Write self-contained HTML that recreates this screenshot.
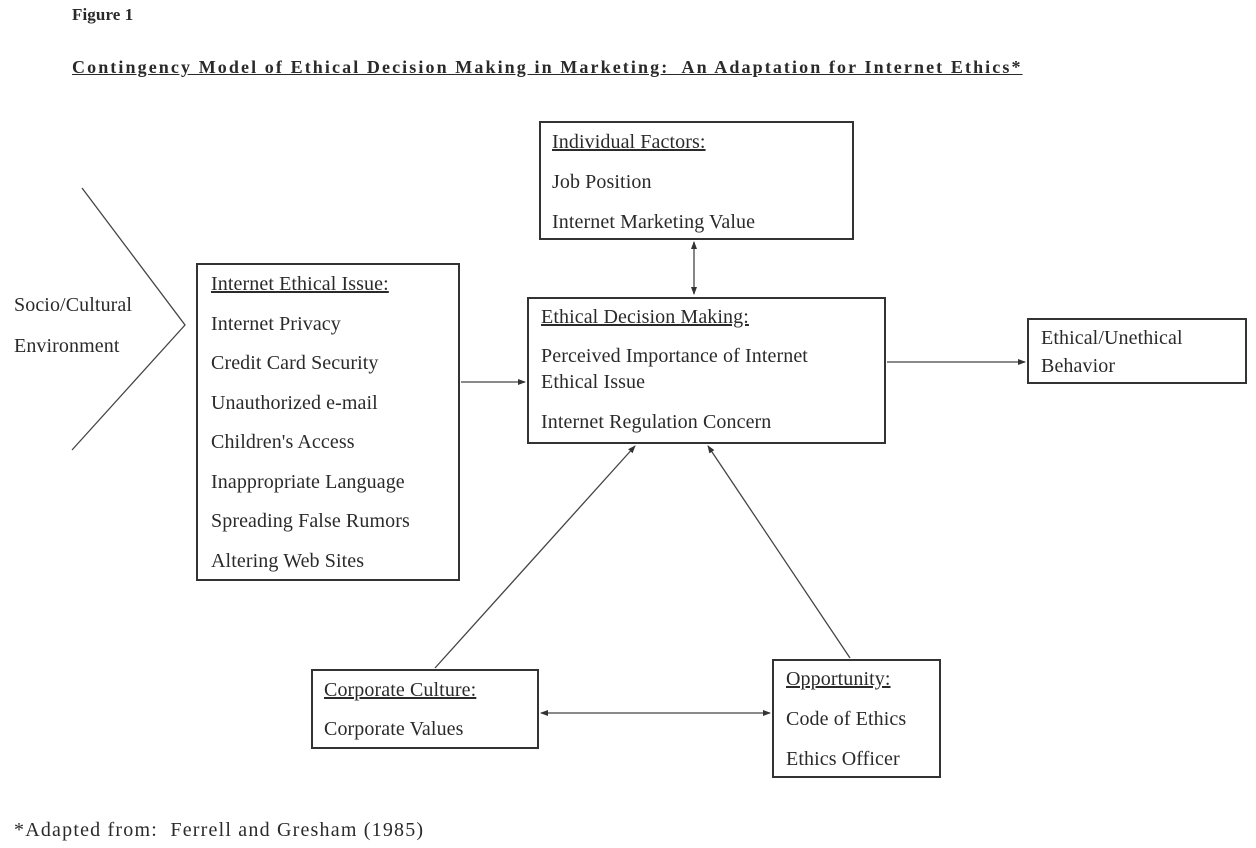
<!DOCTYPE html>
<html><head><meta charset="utf-8"><style>
body{margin:0;width:1256px;height:848px;background:#fff;position:relative;overflow:hidden;font-family:"Liberation Serif",serif;color:#2a2a2a}
.t{position:absolute;font-size:20px;white-space:nowrap;line-height:1;letter-spacing:0.1px}
.b{position:absolute;border:2px solid #333;box-sizing:border-box}
u{text-decoration:underline}
</style></head><body>
<div class="t" style="left:72px;top:6px;font-weight:bold;font-size:17px">Figure 1</div>
<div class="t" style="left:72px;top:58px;font-weight:bold;font-size:18px;text-decoration:underline;letter-spacing:2.1px">Contingency Model of Ethical Decision Making in Marketing:&nbsp; An Adaptation for Internet Ethics*</div>

<div class="b" style="left:539px;top:121px;width:315px;height:119px"></div>
<div class="t" style="left:552px;top:132px"><u>Individual Factors:</u></div>
<div class="t" style="left:552px;top:172px">Job Position</div>
<div class="t" style="left:552px;top:212px">Internet Marketing Value</div>

<div class="b" style="left:196px;top:263px;width:264px;height:318px"></div>
<div class="t" style="left:211px;top:274px"><u>Internet Ethical Issue:</u></div>
<div class="t" style="left:211px;top:314px">Internet Privacy</div>
<div class="t" style="left:211px;top:353px">Credit Card Security</div>
<div class="t" style="left:211px;top:393px">Unauthorized e-mail</div>
<div class="t" style="left:211px;top:432px">Children's Access</div>
<div class="t" style="left:211px;top:472px">Inappropriate Language</div>
<div class="t" style="left:211px;top:511px">Spreading False Rumors</div>
<div class="t" style="left:211px;top:551px">Altering Web Sites</div>

<div class="b" style="left:527px;top:297px;width:359px;height:147px"></div>
<div class="t" style="left:541px;top:307px"><u>Ethical Decision Making:</u></div>
<div class="t" style="left:541px;top:346px">Perceived Importance of Internet</div>
<div class="t" style="left:541px;top:372px">Ethical Issue</div>
<div class="t" style="left:541px;top:412px">Internet Regulation Concern</div>

<div class="b" style="left:1027px;top:318px;width:220px;height:66px"></div>
<div class="t" style="left:1041px;top:328px">Ethical/Unethical</div>
<div class="t" style="left:1041px;top:356px">Behavior</div>

<div class="b" style="left:311px;top:669px;width:228px;height:80px"></div>
<div class="t" style="left:324px;top:680px"><u>Corporate Culture:</u></div>
<div class="t" style="left:324px;top:719px">Corporate Values</div>

<div class="b" style="left:772px;top:659px;width:169px;height:119px"></div>
<div class="t" style="left:786px;top:669px"><u>Opportunity:</u></div>
<div class="t" style="left:786px;top:709px">Code of Ethics</div>
<div class="t" style="left:786px;top:749px">Ethics Officer</div>

<div class="t" style="left:14px;top:295px">Socio/Cultural</div>
<div class="t" style="left:14px;top:336px">Environment</div>
<div class="t" style="left:14px;top:820px;font-size:20px;letter-spacing:1.2px">*Adapted from:&nbsp; Ferrell and Gresham (1985)</div>

<svg width="1256" height="848" style="position:absolute;left:0;top:0">
<defs><marker id="a" markerWidth="8" markerHeight="8" refX="7" refY="4" orient="auto-start-reverse" markerUnits="userSpaceOnUse"><path d="M0,1 L8,4 L0,7 z" fill="#333"/></marker></defs>
<g stroke="#444" stroke-width="1.3" fill="none">
<polyline points="82,188 185,325 72,450"/>
<line x1="694" y1="242" x2="694" y2="294" marker-start="url(#a)" marker-end="url(#a)"/>
<line x1="461" y1="382" x2="525" y2="382" marker-end="url(#a)"/>
<line x1="887" y1="362" x2="1025" y2="362" marker-end="url(#a)"/>
<line x1="435" y1="668" x2="635" y2="446" marker-end="url(#a)"/>
<line x1="850" y1="658" x2="708" y2="446" marker-end="url(#a)"/>
<line x1="541" y1="713" x2="770" y2="713" marker-start="url(#a)" marker-end="url(#a)"/>
</g></svg>
</body></html>
